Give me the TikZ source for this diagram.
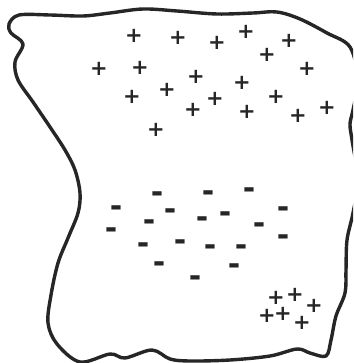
\documentclass[tikz,border=0pt]{standalone}
\usepackage{fontspec}
\newfontfamily\signfont{DejaVu Sans}
\definecolor{chargeInk}{HTML}{262626}
\usetikzlibrary{positioning}

\begin{document}
\begin{tikzpicture}[
    x=1pt, y=-1pt,
    outline/.style={
      draw=chargeInk,
      line width=3.4pt,
      line join=round,
    },
    plussign/.style={
      inner sep=0pt,
      text=chargeInk,
      font=\signfont\bfseries\fontsize{21}{21}\selectfont,
    },
    minussign/.style={plussign, yshift=-4pt, font=\signfont\bfseries\fontsize{30}{30}\selectfont},
  ]
    % frame
    \useasboundingbox (0,0) rectangle (353,363);
    \clip (0,0) rectangle (353,363);

    % blob outline
    \draw[outline] plot[smooth cycle, tension=0.55] coordinates {
      (9,24) (19,15) (50,15) (83,16) (110,13) (143,9) (177,11) (217,14)
      (253,13) (277,12) (300,19) (327,33) (350,47) (358,80) (353,110)
      (350,124) (352,140) (358,180) (353,213) (347,240) (346,270)
      (345,293) (336,316) (331,340) (326,356) (310,353) (297,349)
      (270,356) (230,360) (190,361) (170,359) (152,350) (125,358)
      (110,354) (80,362) (57,344) (48,323) (51,295) (58,263) (68,238)
      (78,213) (80,193) (75,170) (65,150) (50,127) (33,102) (18,80)
      (15,62) (23,44) (11,33)
    };

    % positive charges, upper cluster
    \foreach \px/\py [count=\i] in {
        134/36, 178/38, 217/43, 246/32, 289/41, 267/55, 99/69, 140/68,
        196/77, 307/69, 242/83, 167/90, 132/97, 215/99, 276/97, 193/110,
        247/112, 327/108, 298/116, 156/130}
      \node[plussign] (p\i) at (\px,\py) {+};

    % positive charges, lower right
    \foreach \px/\py [count=\i] in {
        276/298, 295/295, 314/306, 267/316, 283/314, 302/323}
      \node[plussign] (q\i) at (\px,\py) {+};

    % negative charges
    \foreach \px/\py [count=\i] in {
        157/193, 208/192, 249/189, 116/207, 170/210, 225/213, 283/208,
        149/221, 202/218, 259/224, 111/229, 283/236, 143/244, 180/241,
        210/246, 241/246, 159/263, 234/265, 195/277}
      \node[minussign] (n\i) at (\px,\py) {-};
  \end{tikzpicture}
\end{document}
